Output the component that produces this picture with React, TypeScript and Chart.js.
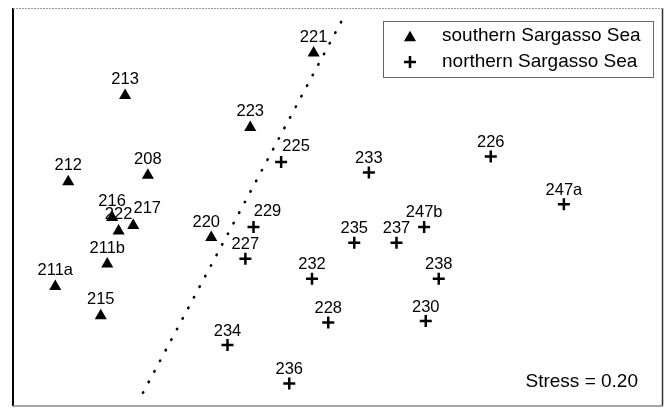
import React, { useEffect, useRef } from 'react';
import { Chart, registerables } from 'chart.js';

Chart.register(...registerables);

// NMDS ordination of stations
const southernLabels = ['208', '211a', '211b', '212', '213', '215', '216', '217', '220', '221', '222', '223'];
const southernX = [-1.17, -1.74, -1.42, -1.66, -1.31, -1.46, -1.39, -1.26, -0.78, -0.15, -1.35, -0.54];
const southernY = [0.24, -0.6, -0.43, 0.19, 0.84, -0.82, -0.08, -0.14, -0.23, 1.16, -0.18, 0.6];

const northernLabels = ['225', '226', '227', '228', '229', '230', '232', '233', '234', '235', '236', '237', '238', '247a', '247b'];
const northernX = [-0.35, 0.94, -0.57, -0.06, -0.52, 0.54, -0.16, 0.19, -0.68, 0.1, -0.3, 0.36, 0.62, 1.39, 0.53];
const northernY = [0.34, 0.38, -0.39, -0.87, -0.15, -0.86, -0.54, 0.26, -1.04, -0.27, -1.33, -0.27, -0.54, 0.02, -0.15];

// dividing line between the two groups
const boundaryX = [-1.2, 0.03];
const boundaryY = [-1.4, 1.42];

const stressValue = 0.2;

const FONT = '"Liberation Sans", Arial, sans-serif';

// labels placed beside their marker instead of above it
const labelShift: Record<string, [number, number]> = {
  '225': [15, -15],
  '217': [14, -17],
  '229': [14, -15],
  '220': [-5, -15],
};

const toPoints = (xs: number[], ys: number[]) => xs.map((x, i) => ({ x, y: ys[i] }));

const frameAndText = {
  id: 'frameAndText',
  afterDatasetsDraw(chart: any) {
    const { ctx, chartArea } = chart;
    const { left, top, right, bottom } = chartArea;
    ctx.save();

    // station labels
    ctx.fillStyle = '#000';
    ctx.font = `16.5px ${FONT}`;
    ctx.textAlign = 'center';
    ctx.textBaseline = 'middle';
    const sets: [number, string[], number][] = [
      [1, southernLabels, -16],
      [2, northernLabels, -14],
    ];
    for (const [idx, names, gap] of sets) {
      const meta = chart.getDatasetMeta(idx);
      meta.data.forEach((el: any, i: number) => {
        const name = names[i];
        const s = labelShift[name] || [0, gap];
        ctx.fillText(name, el.x + s[0], el.y + s[1]);
      });
    }

    // frame
    ctx.lineWidth = 2;
    ctx.strokeStyle = '#000';
    ctx.beginPath();
    ctx.moveTo(left, top);
    ctx.lineTo(left, bottom);
    ctx.stroke();
    ctx.lineWidth = 1.5;
    ctx.strokeStyle = '#333';
    ctx.beginPath();
    ctx.moveTo(right - 0.5, top);
    ctx.lineTo(right - 0.5, bottom);
    ctx.stroke();
    ctx.lineWidth = 1.5;
    ctx.strokeStyle = '#888';
    ctx.beginPath();
    ctx.moveTo(left, bottom);
    ctx.lineTo(right, bottom);
    ctx.stroke();
    ctx.lineWidth = 1;
    ctx.strokeStyle = '#999';
    ctx.setLineDash([2, 1]);
    ctx.beginPath();
    ctx.moveTo(left, top + 0.5);
    ctx.lineTo(right, top + 0.5);
    ctx.stroke();
    ctx.setLineDash([]);

    // legend
    const bx = right - 280;
    const by = top + 13;
    const bw = 270;
    const bh = 56;
    ctx.fillStyle = '#fff';
    ctx.fillRect(bx, by, bw, bh);
    ctx.strokeStyle = '#666';
    ctx.lineWidth = 1;
    ctx.strokeRect(bx + 0.5, by + 0.5, bw, bh);

    const mx = bx + 27;
    const r1 = by + 15;
    const r2 = by + 41;
    ctx.fillStyle = '#000';
    ctx.beginPath();
    ctx.moveTo(mx, r1 + 1.75 - 7);
    ctx.lineTo(mx + 6.06, r1 + 1.75 + 3.5);
    ctx.lineTo(mx - 6.06, r1 + 1.75 + 3.5);
    ctx.closePath();
    ctx.fill();
    ctx.strokeStyle = '#000';
    ctx.lineWidth = 2.5;
    ctx.beginPath();
    ctx.moveTo(mx - 6, r2);
    ctx.lineTo(mx + 6, r2);
    ctx.moveTo(mx, r2 - 6);
    ctx.lineTo(mx, r2 + 6);
    ctx.stroke();

    ctx.font = `19px ${FONT}`;
    ctx.textAlign = 'left';
    ctx.textBaseline = 'middle';
    ctx.fillText(chart.data.datasets[1].label, bx + 59, r1);
    ctx.fillText(chart.data.datasets[2].label, bx + 59, r2);

    // stress annotation
    ctx.textAlign = 'right';
    ctx.fillText(`Stress = ${stressValue.toFixed(2)}`, right - 25, bottom - 24);

    ctx.restore();
  },
};

export default function App() {
  const canvasRef = useRef<HTMLCanvasElement | null>(null);

  useEffect(() => {
    document.body.style.margin = '0';
    const canvas = canvasRef.current;
    if (!canvas) return;
    const chart = new Chart(canvas, {
      type: 'scatter',
      data: {
        datasets: [
          {
            type: 'line',
            label: 'boundary',
            data: toPoints(boundaryX, boundaryY),
            borderColor: '#000',
            borderWidth: 2.6,
            borderDash: [0.5, 11.5],
            borderCapStyle: 'round',
            pointRadius: 0,
            fill: false,
          },
          {
            label: 'southern Sargasso Sea',
            data: toPoints(southernX, southernY),
            pointStyle: 'triangle',
            pointRadius: 7,
            backgroundColor: '#000',
            borderColor: '#000',
            borderWidth: 0,
          },
          {
            label: 'northern Sargasso Sea',
            data: toPoints(northernX, northernY),
            pointStyle: 'cross',
            pointRadius: 6,
            borderColor: '#000',
            borderWidth: 2.5,
          },
        ],
      },
      options: {
        responsive: false,
        animation: false,
        layout: { autoPadding: false, padding: { left: 13, top: 8, right: 2, bottom: 2 } },
        scales: {
          x: { type: 'linear', min: -2, max: 2, display: false },
          y: { type: 'linear', min: -1.5, max: 1.5, display: false },
        },
        plugins: {
          legend: { display: false },
          tooltip: { enabled: false },
        },
      },
      plugins: [frameAndText],
    } as any);
    return () => chart.destroy();
  }, []);

  return <canvas ref={canvasRef} width={665} height={408} style={{ display: 'block' }} />;
}
